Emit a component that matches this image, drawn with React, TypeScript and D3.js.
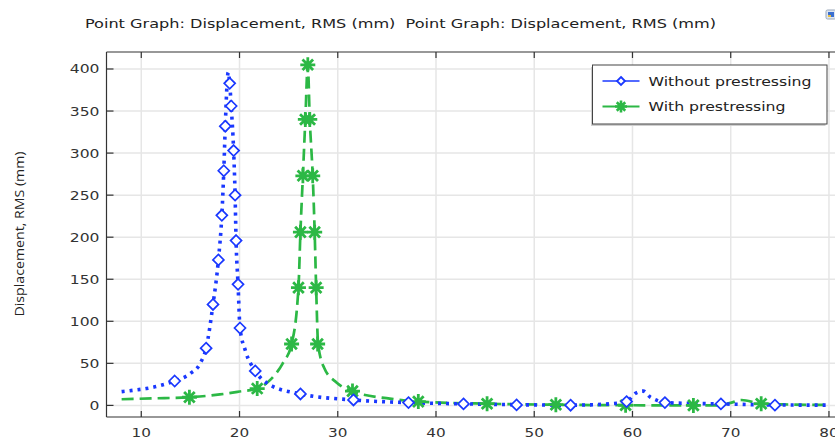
import React from "react";
import * as d3 from "d3";

const W = 835;
const H = 439;

// Axis ticks
const xTicks = [10, 20, 30, 40, 50, 60, 70, 80];
const yTicks = [0, 50, 100, 150, 200, 250, 300, 350, 400];

// Without prestressing: curve
const blueLineX = [8, 9.2, 10.5, 11.9, 13.4, 15, 16, 16.6, 17.3, 17.85, 18.2, 18.4, 18.55, 18.85, 19.0, 19.15, 19.4, 19.55, 19.65, 19.85, 20.05, 20.6, 21.6, 23, 26.2, 31.5, 37.2, 42.8, 48.2, 53.7, 58.5, 59.4, 60.4, 61.1, 61.8, 62.5, 63.3, 69, 74.5, 80];
const blueLineY = [16.4, 18, 20, 23.5, 29, 38, 50, 68, 120, 173, 226, 279, 332, 396, 383, 356, 303, 250, 196, 144, 92, 65, 41, 25, 13.6, 6.5, 3.3, 1.8, 0.8, 0.3, 2.5, 4.5, 15, 17, 10, 6, 3.3, 1.8, 0.5, 0.3];
// Without prestressing: markers
const blueMarkX = [13.4, 16.6, 17.3, 17.85, 18.2, 18.4, 18.55, 19.0, 19.15, 19.4, 19.55, 19.65, 19.85, 20.05, 21.6, 26.2, 31.6, 37.2, 42.8, 48.2, 53.7, 59.4, 63.3, 69, 74.5];
const blueMarkY = [29, 68, 120, 173, 226, 279, 332, 383, 356, 303, 250, 196, 144, 92, 41, 13.6, 6.5, 3.3, 1.8, 0.6, 0.2, 4.5, 3.3, 1.8, 0.3];

// With prestressing: curve
const greenLineX = [8, 11, 14.9, 18, 20, 21.8, 23.1, 24.4, 25.3, 26.0, 26.2, 26.45, 26.7, 26.95, 27.15, 27.45, 27.65, 27.8, 28.0, 28.6, 29.9, 31.4, 35.3, 38.2, 45.2, 52.2, 59.3, 66.2, 68.8, 70, 71.1, 73.1, 76, 80];
const greenLineY = [7.3, 8.3, 9.7, 13, 16.5, 20, 30, 50, 73, 140, 206, 273, 340, 405, 340, 273, 206, 140, 73, 45, 27, 17, 8, 4.5, 2, 0.8, 0.2, 0, 0, 3, 6.4, 2, 1, 0.5];
// With prestressing: markers
const greenMarkX = [14.9, 21.8, 25.3, 26.0, 26.2, 26.45, 26.7, 26.95, 27.15, 27.45, 27.65, 27.8, 27.95, 31.5, 38.2, 45.2, 52.2, 59.3, 66.2, 73.1];
const greenMarkY = [9.7, 20, 73, 140, 206, 273, 340, 405, 340, 273, 206, 140, 73, 17, 4.5, 2, 0.8, 0.2, 0, 2];

const legendLabels = ["Without prestressing", "With prestressing"];
const titleText = "Point Graph: Displacement, RMS (mm)  Point Graph: Displacement, RMS (mm)";

const BLUE = "#1a38ff";
const GREEN = "#2cb845";

const plot = { left: 106.5, top: 52, right: 838, bottom: 417 };

const x = d3.scaleLinear().domain([6.46, 80.92]).range([plot.left, plot.right]);
const y = d3.scaleLinear().domain([-13.8, 420.2]).range([plot.bottom, plot.top]);

const toPts = (xs: number[], ys: number[]) => xs.map((v, i) => [v, ys[i]] as [number, number]);

const line = d3
  .line<[number, number]>()
  .x(d => x(d[0]))
  .y(d => y(d[1]))
  .curve(d3.curveMonotoneX);

const diamond = (cx: number, cy: number, r = 5.5) =>
  `M${cx},${cy - r}L${cx + r},${cy}L${cx},${cy + r}L${cx - r},${cy}Z`;

const asterisk = (cx: number, cy: number, r = 7.5) => {
  const a = r * Math.SQRT1_2;
  return `M${cx - r},${cy}L${cx + r},${cy}M${cx},${cy - r}L${cx},${cy + r}` +
    `M${cx - a},${cy - a}L${cx + a},${cy + a}M${cx - a},${cy + a}L${cx + a},${cy - a}`;
};

export default function App() {
  const bluePts = toPts(blueLineX, blueLineY);
  const greenPts = toPts(greenLineX, greenLineY);
  const blueMarks = toPts(blueMarkX, blueMarkY);
  const greenMarks = toPts(greenMarkX, greenMarkY);

  const tickFont = { fontFamily: "DejaVu Sans", fontSize: 12.5, fill: "#333" };

  return (
    <svg
      width={W}
      height={H}
      style={{ position: "absolute", left: 0, top: 0, background: "#fff" }}
    >
      <defs>
        <clipPath id="plotclip">
          <rect x={plot.left} y={plot.top} width={plot.right - plot.left} height={plot.bottom - plot.top} />
        </clipPath>
      </defs>

      {/* title */}
      <text
        x={85}
        y={27.5}
        textLength={631}
        lengthAdjust="spacingAndGlyphs"
        style={{ fontFamily: "DejaVu Sans Condensed", fontSize: 13, fill: "#222", whiteSpace: "pre" }}
      >
        {titleText}
      </text>

      {/* small icon top right */}
      <rect x={826} y={10} width={10} height={9} rx={1.5} fill="#dfe6f0" stroke="#9aa8bb" />
      <rect x={828} y={12} width={6} height={5} fill="#3a6fd0" />
      <rect x={828} y={15} width={3} height={2} fill="#e8c040" />

      {/* gridlines */}
      <g stroke="#e6e6e6" strokeWidth={1.5}>
        {xTicks.map(t => (
          <line key={"gx" + t} x1={x(t)} x2={x(t)} y1={plot.top} y2={plot.bottom} />
        ))}
        {yTicks.map(t => (
          <line key={"gy" + t} x1={plot.left} x2={plot.right} y1={y(t)} y2={y(t)} />
        ))}
      </g>

      {/* series */}
      <g clipPath="url(#plotclip)" fill="none">
        <path d={line(greenPts) ?? ""} stroke={GREEN} strokeWidth={2.7} strokeDasharray="12 6" />
        <path d={line(bluePts) ?? ""} stroke={BLUE} strokeWidth={3.6} strokeDasharray="3 5" />
        {greenMarks.map((d, i) => (
          <path key={"gm" + i} d={asterisk(x(d[0]), y(d[1]))} stroke={GREEN} strokeWidth={2.8} />
        ))}
        {blueMarks.map((d, i) => (
          <path
            key={"bm" + i}
            d={diamond(x(d[0]), y(d[1]))}
            stroke={BLUE}
            strokeWidth={1.7}
            fill="#fff"
          />
        ))}
      </g>

      {/* frame */}
      <g stroke="#333" strokeWidth={1.2} fill="none">
        <line x1={plot.left} x2={plot.right} y1={plot.top} y2={plot.top} />
        <line x1={plot.left} x2={plot.right} y1={plot.bottom} y2={plot.bottom} />
        <line x1={plot.left} x2={plot.left} y1={plot.top} y2={plot.bottom} />
        {xTicks.map(t => (
          <g key={"tx" + t}>
            <line x1={x(t)} x2={x(t)} y1={plot.bottom} y2={plot.bottom - 6} />
            <line x1={x(t)} x2={x(t)} y1={plot.top} y2={plot.top + 6} />
          </g>
        ))}
        {yTicks.map(t => (
          <line key={"ty" + t} x1={plot.left} x2={plot.left + 7} y1={y(t)} y2={y(t)} />
        ))}
      </g>

      {/* tick labels */}
      {xTicks.map(t => (
        <text
          key={"lx" + t}
          x={x(t)}
          y={437}
          textAnchor="middle"
          textLength={String(t).length * 9.7}
          lengthAdjust="spacingAndGlyphs"
          style={tickFont}
        >
          {t}
        </text>
      ))}
      {yTicks.map(t => (
        <text
          key={"ly" + t}
          x={99.5}
          y={y(t)}
          dy="0.36em"
          textAnchor="end"
          textLength={String(t).length * 9.9}
          lengthAdjust="spacingAndGlyphs"
          style={tickFont}
        >
          {t}
        </text>
      ))}

      {/* y axis title */}
      <text
        transform={`translate(24,234) rotate(-90)`}
        textAnchor="middle"
        textLength={165}
        lengthAdjust="spacingAndGlyphs"
        style={{ fontFamily: "Open Sans", fontSize: 13, fill: "#222" }}
      >
        Displacement, RMS (mm)
      </text>

      {/* legend */}
      <g>
        <rect x={591} y={67} width={234.5} height={59} fill="#cfcfcf" />
        <rect x={592.5} y={65} width={234.5} height={59} fill="#fff" stroke="#444" strokeWidth={1} />
        {legendLabels.map((lab, i) => {
          const cy = 81 + i * 25.5;
          const c = i === 0 ? BLUE : GREEN;
          return (
            <g key={lab}>
              <line x1={602.5} x2={639.5} y1={cy} y2={cy} stroke={c} strokeWidth={i === 0 ? 1.6 : 2.2} />
              {i === 0 ? (
                <path d={diamond(621, cy, 4)} stroke={c} strokeWidth={1.8} fill="#fff" />
              ) : (
                <path d={asterisk(621, cy, 6)} stroke={c} strokeWidth={2.6} />
              )}
              <text
                x={648.5}
                y={cy}
                dy="0.36em"
                textLength={i === 0 ? 163 : 137}
                lengthAdjust="spacingAndGlyphs"
                style={{ fontFamily: "DejaVu Sans", fontSize: 13, fill: "#222" }}
              >
                {lab}
              </text>
            </g>
          );
        })}
      </g>
    </svg>
  );
}
